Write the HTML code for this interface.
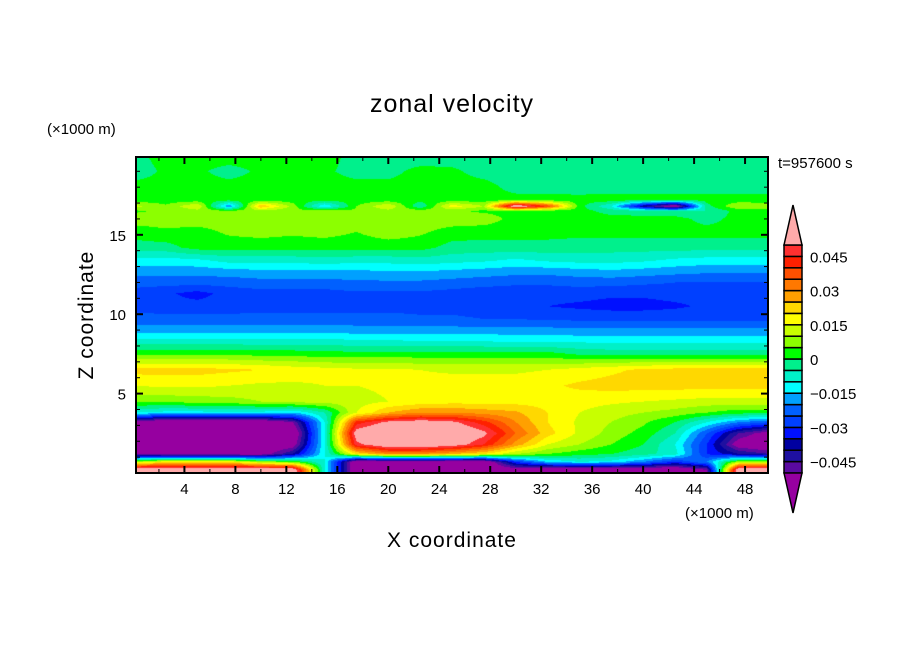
<!DOCTYPE html>
<html><head><meta charset="utf-8"><style>
body{margin:0;background:#fff;width:904px;height:654px;overflow:hidden;font-family:"Liberation Sans",sans-serif}
#wrap{position:relative;width:904px;height:654px}
canvas{position:absolute;left:136px;top:157px}
svg{position:absolute;left:0;top:0}
</style></head><body><div id="wrap">
<canvas id="cv" width="632" height="316"></canvas>
<svg id="sv" width="904" height="654"></svg>
</div>
<script>
// data (values in 1e-3 m/s)
const xCols=[0,2.5,5,7.5,10,12.5,15,17.5,20,22.5,25,27.5,30,32.5,35,37.5,40,42.5,45,47.5,50];
const zRows=[19.8,19,18,17.2,16.8,16.5,16,15.2,14.2,13.4,12.7,12,11.3,10.5,9.7,9,8.3,7.5,6.5,5.5,4.5,3.8,3.2,2.5,1.8,1.2,0.7,0.2];
const field=[
[-2,2,2,2,2,1,2,-2,-3,-3,-2,-3,-3,-3,-3,-3,-3,-3,-2,-3,-3],
[-3,1,1,-2,1,2,1,-2,-2,2,1,-2,-3,-3,-3,-3,-3,-2,-3,-2,-3],
[2,2,2,2,2,2,2,2,2,2,2,2,-2,-2,-3,-3,-2,-2,-2,-2,-2],
[2,2,2,2,2,2,2,2,2,2,2,2,2,2,2,3,2,2,2,2,2],
[12,6,15,-20,25,8,-15,5,15,-5,18,10,60,40,2,-10,-40,-60,-2,10,8],
[4,6,8,6,8,6,8,6,8,8,6,4,3,2,2,-2,-3,-4,-5,2,2],
[8,8,8,8,8,8,8,8,8,8,8,8,3,2,2,2,2,2,-2,2,2],
[2,4,3,6,7,6,7,5,8,6,3,2,2,2,2,2,2,2,2,2,2],
[-2,-2,2,2,2,2,2,2,2,2,-2,-2,-2,-2,-3,-3,-3,-3,-3,-3,-3],
[-12,-12,-11,-8,-8,-8,-7,-8,-8,-7,-8,-9,-11,-9,-8,-8,-9,-11,-12,-12,-12],
[-18,-18,-18,-17,-16,-16,-16,-16,-15,-15,-16,-17,-18,-18,-17,-16,-17,-18,-19,-19,-19],
[-23,-23,-23,-23,-22,-22,-22,-21,-21,-21,-22,-23,-24,-24,-23,-23,-24,-25,-25,-25,-25],
[-27,-29,-32,-28,-27,-27,-27,-26,-26,-26,-27,-28,-28,-28,-28,-29,-29,-28,-28,-28,-28],
[-27,-28,-28,-28,-27,-27,-27,-27,-27,-27,-27,-28,-29,-30,-31,-32,-32,-31,-29,-28,-28],
[-23,-23,-23,-23,-23,-23,-23,-23,-23,-24,-24,-25,-25,-26,-26,-26,-26,-26,-26,-26,-26],
[-17,-17,-17,-17,-17,-17,-17,-18,-18,-18,-18,-18,-18,-18,-19,-19,-19,-19,-19,-19,-19],
[-8,-8,-8,-8,-8,-8,-8,-9,-9,-10,-10,-10,-11,-11,-11,-11,-11,-11,-11,-11,-11],
[4,4,4,4,3,3,2,2,2,2,2,2,2,2,-1,-2,-2,-2,-2,-2,-2],
[22,22,22,21,20,18,17,16,16,15,14,14,14,15,17,19,21,22,22,22,22],
[15,16,16,15,14,14,15,15,16,17,18,18,18,19,21,22,22,22,22,22,22],
[6,6,7,8,10,12,12,13,15,17,18,18,18,18,17,16,15,14,13,13,13],
[-10,-12,-12,-12,-12,-15,-5,15,25,30,30,28,26,20,15,12,10,8,5,2,2],
[-55,-60,-60,-60,-60,-50,-10,42,52,55,52,42,30,20,14,10,6,0,-10,-20,-25],
[-60,-60,-60,-60,-60,-60,-10,55,62,62,60,52,35,22,14,8,3,-5,-25,-45,-55],
[-60,-60,-60,-60,-60,-55,-10,48,58,58,55,45,28,15,10,5,0,-10,-30,-55,-60],
[-50,-55,-55,-55,-55,-40,-10,20,30,30,25,20,10,5,2,0,-3,-8,-30,-40,-45],
[10,20,20,20,10,5,-10,-60,-60,-60,-60,-60,-30,-15,-10,-12,-20,-30,-20,10,10],
[60,60,60,60,60,60,-10,-60,-60,-60,-60,-60,-55,-60,-60,-60,-60,-60,-50,60,60]];
const levelColors=["#9600a0","#5a0aa0","#1e10a0","#0000a0","#0010ff","#0040ff","#0060ff","#00a0ff","#00ffff","#00f0c8","#00f08c","#00ff00","#8cff00","#c8ff00","#ffff00","#ffd800","#ffa000","#ff7800","#ff5000","#ff2000","#ff3030","#ffaaaa"];
const cbLabels=["0.045","0.03","0.015","0","\u22120.015","\u22120.03","\u22120.045"];
const cbLabelVals=[45,30,15,0,-15,-30,-45];
const xTicks=[4,8,12,16,20,24,28,32,36,40,44,48];
const yTicks=[5,10,15];

const X0=136,X1=768,Y0=157,Y1=473,xmin=0.2,xmax=49.8,zmin=0,zmax=19.9;
const sx=x=>X0+(x-xmin)/(xmax-xmin)*(X1-X0);
const sy=z=>Y1-(z-zmin)/(zmax-zmin)*(Y1-Y0);
function colorIdx(v){
  if(v>=50) return 21; if(v<-50) return 0;
  return 1+Math.floor((v+50)/5);
}
function hex(c){return [parseInt(c.substr(1,2),16),parseInt(c.substr(3,2),16),parseInt(c.substr(5,2),16)];}
const rgb=levelColors.map(hex);
function sample(x,z){
  let i=0; while(i<xCols.length-2 && x>xCols[i+1]) i++;
  let tx=Math.max(0,Math.min(1,(x-xCols[i])/(xCols[i+1]-xCols[i])));
  let j,tz;
  if(z>=zRows[0]) {j=0; tz=0;}
  else if(z<=zRows[zRows.length-1]){j=zRows.length-2; tz=1;}
  else { j=0; while(z<zRows[j+1]) j++; tz=(zRows[j]-z)/(zRows[j]-zRows[j+1]); }
  const a=field[j][i],b=field[j][i+1],c=field[j+1][i],d=field[j+1][i+1];
  return (a*(1-tx)+b*tx)*(1-tz)+(c*(1-tx)+d*tx)*tz;
}
const cv=document.getElementById('cv'),ctx=cv.getContext('2d');
const img=ctx.createImageData(632,316);
for(let py=0;py<316;py++){const z=zmax-(py+0.5)/316*(zmax-zmin);
  for(let px=0;px<632;px++){const x=xmin+(px+0.5)/632*(xmax-xmin);
    const c=rgb[colorIdx(sample(x,z))];const k=(py*632+px)*4;
    img.data[k]=c[0];img.data[k+1]=c[1];img.data[k+2]=c[2];img.data[k+3]=255;}}
ctx.putImageData(img,0,0);

const NS="http://www.w3.org/2000/svg",sv=document.getElementById('sv');
function mk(tag,attrs,txt){const e=document.createElementNS(NS,tag);for(const k in attrs)e.setAttribute(k,attrs[k]);if(txt!=null)e.textContent=txt;sv.appendChild(e);return e;}
let e;
e=mk('rect',{x:X0,y:Y0,width:X1-X0,height:Y1-Y0,fill:'none',stroke:'#000','stroke-width':2});


for(let v=2;v<50;v+=2){const major=v%4===0,L=major?7:4;
  e=mk('line',{x1:sx(v),x2:sx(v),y1:Y1,y2:Y1-L,stroke:'#000','stroke-width':major?2:1});
  
  
  e=mk('line',{x1:sx(v),x2:sx(v),y1:Y0,y2:Y0+L,stroke:'#000','stroke-width':major?2:1});
  
  }
for(let v=1;v<20;v++){const major=v%5===0,L=major?7:4;
  e=mk('line',{x1:X0,x2:X0+L,y1:sy(v),y2:sy(v),stroke:'#000','stroke-width':major?2:1});
  
  
  e=mk('line',{x1:X1,x2:X1-L,y1:sy(v),y2:sy(v),stroke:'#000','stroke-width':major?2:1});
  
  }
xTicks.forEach(v=>{e=mk('text',{x:sx(v),y:494,'text-anchor':'middle','font-size':15},String(v));
  
  });
yTicks.forEach(v=>{e=mk('text',{x:126,y:sy(v)+6,'text-anchor':'end','font-size':15},String(v));
  
  });
e=mk('text',{x:452,y:112,'text-anchor':'middle','font-size':25,'letter-spacing':1},'zonal velocity');


e=mk('text',{x:47,y:134,'font-size':15},'(\u00d71000 m)');


e=mk('text',{x:685,y:518,'font-size':15},'(\u00d71000 m)');


e=mk('text',{x:452,y:547,'text-anchor':'middle','font-size':21,'letter-spacing':1},'X coordinate');


e=mk('text',{x:93,y:315,'text-anchor':'middle','font-size':21,'letter-spacing':1,transform:'rotate(-90 93 315)'},'Z coordinate');


e=mk('text',{x:778,y:168,'font-size':15},'t=957600 s');


const CX=784,CW=18,CT=245,CB=473,bh=(CB-CT)/20;
const cy=v=>CT+(50-v)/100*(CB-CT);
for(let i=1;i<=20;i++){const top=cy(-50+i*5);
  e=mk('rect',{x:CX,y:top,width:CW,height:bh,fill:levelColors[i],stroke:'#000','stroke-width':1.5});
  
  }
e=mk('polygon',{points:`${CX},${CT} ${CX+CW/2},205 ${CX+CW},${CT}`,fill:levelColors[21],stroke:'#000','stroke-width':1.5});


e=mk('polygon',{points:`${CX},${CB} ${CX+CW/2},513 ${CX+CW},${CB}`,fill:levelColors[0],stroke:'#000','stroke-width':1.5});


cbLabels.forEach((t,i)=>{e=mk('text',{x:810,y:cy(cbLabelVals[i])+6,'font-size':15},t);
  
  });
</script></body></html>
